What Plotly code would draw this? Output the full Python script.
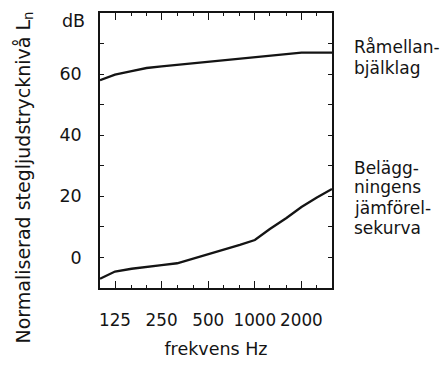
import plotly.graph_objects as go

# Third-octave band centre frequencies (Hz)
freqs = [100, 125, 160, 200, 250, 315, 400, 500, 630, 800, 1000, 1250, 1600, 2000, 2500, 3150]
# Normalised impact sound pressure level, bare joist floor (dB)
ramellan = [58, 59.8, 61, 62, 62.5, 63, 63.5, 64, 64.5, 65, 65.5, 66, 66.5, 67, 67, 67]
# Reference curve for floor coverings (dB)
jamforelse = [-7, -4.6, -3.7, -3, -2.5, -1.9, -0.4, 1.1, 2.6, 4.1, 5.7, 9.3, 12.9, 16.5, 19.5, 22.4]

x_ticks = [125, 250, 500, 1000, 2000]
x_ticktext = ["125", "250", "500", "1000", "2000"]
y_ticks = [0, 20, 40, 60]
y_minor = [-10, 10, 30, 50, 70, 80]

# Curve labels, one entry per printed line, with the dB level each line sits at
label_lines = ["Råmellan-", "bjälklag", "Belägg-", "ningens", "jämförel-", "sekurva"]
label_levels = [68.9, 61.9, 29.4, 23.0, 16.05, 9.6]

ink = "#141414"
font_family = "DejaVu Sans, Verdana, sans-serif"

fig = go.Figure()
for vals in (ramellan, jamforelse):
    fig.add_trace(go.Scatter(
        x=freqs, y=vals, mode="lines",
        line=dict(color=ink, width=2.3),
        showlegend=False, hoverinfo="skip",
    ))

fig.update_layout(
    width=447, height=368,
    margin=dict(l=100, r=115, t=11, b=80),
    paper_bgcolor="white", plot_bgcolor="white",
    font=dict(family=font_family, size=17, color=ink),
)

fig.update_xaxes(
    type="log", range=[2, 3.4983],
    tickvals=x_ticks, ticktext=x_ticktext,
    ticks="inside", ticklen=7, tickwidth=1.4, tickcolor=ink,
    minor=dict(tickvals=freqs, ticks="inside", ticklen=3, tickwidth=1.3, tickcolor=ink),
    showline=True, linecolor=ink, linewidth=1.6, mirror="ticks",
    showgrid=False, zeroline=False,
    tickfont=dict(size=16.8, color=ink),
    ticklabelstandoff=16,
    title=dict(text="frekvens Hz", font=dict(size=17.5, color=ink), standoff=14),
)

fig.update_yaxes(
    range=[-10, 80],
    tickvals=y_ticks,
    ticks="inside", ticklen=4, tickwidth=1.3, tickcolor=ink,
    minor=dict(tickvals=y_minor, ticks="inside", ticklen=4, tickwidth=1.3, tickcolor=ink),
    showline=True, linecolor=ink, linewidth=1.6, mirror="ticks",
    showgrid=False, zeroline=False,
    tickfont=dict(size=17.5, color=ink),
    ticklabelstandoff=13,
)

# Axis title on the far left, with subscript n
fig.add_annotation(
    xref="paper", yref="paper", x=0, y=0.5, xshift=-76, yshift=-27,
    text="Normaliserad stegljudstrycknivå L<sub>n</sub>",
    textangle=-90, showarrow=False, xanchor="center", yanchor="middle",
    font=dict(size=19, color=ink),
)
# Unit label above the y tick labels
fig.add_annotation(
    xref="paper", yref="y", x=0, y=77.5, xshift=-13,
    text="dB", showarrow=False, xanchor="right", yanchor="middle",
    font=dict(size=17.5, color=ink),
)
# Curve labels to the right of the plot
for line, level in zip(label_lines, label_levels):
    fig.add_annotation(
        xref="paper", yref="y", x=1, y=level, xshift=20,
        text=line, align="left",
        showarrow=False, xanchor="left", yanchor="middle",
        font=dict(size=17, color=ink),
    )

fig.write_html("out.html")
